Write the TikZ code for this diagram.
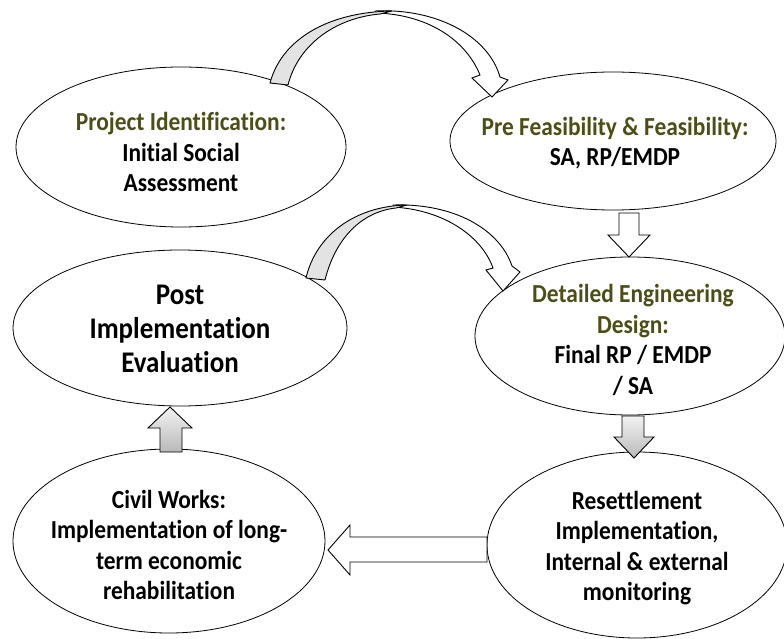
\documentclass[tikz,border=0pt]{standalone}
\usepackage{fontspec}
\setmainfont{Carlito}[FakeStretch=0.9, Ligatures=NoCommon]
\usepackage{xcolor}
\usetikzlibrary{shapes.geometric,positioning,calc}
\definecolor{titlegreen}{HTML}{4D4D17}
\tikzset{
  stage/.style={draw, ellipse, inner sep=0pt, line width=0.8pt},
  stagetext/.style={align=center, inner sep=0pt, font=\bfseries\fontsize{26}{30.5}\selectfont},
  bigtext/.style={align=center, inner sep=0pt, font=\bfseries\fontsize{30}{34}\selectfont},
  graypart/.style={draw, line width=0.9pt, fill=gray!22, line join=round},
  whitepart/.style={draw, line width=0.9pt, fill=white, line join=miter},
}

\begin{document}
\begin{tikzpicture}[x=1pt,y=-1pt]
		\useasboundingbox (0,0) rectangle (784,639);
		% stages
		\node[stage, minimum width=330pt, minimum height=160pt] (ident) at (181,147) {};
		\node[stage, minimum width=326pt, minimum height=138pt] (pre) at (613,141) {};
		\node[stage, minimum width=310pt, minimum height=158pt] (design) at (630,336) {};
		\node[stage, minimum width=334pt, minimum height=156pt] (post) at (180,328) {};
		\node[stage, minimum width=312pt, minimum height=184pt] (civil) at (169,541) {};
		\node[stage, minimum width=300pt, minimum height=186pt] (reset) at (637,545) {};
		\node[stagetext] (identtext) at ($(ident)+(0,5)$) {\textcolor{titlegreen}{Project Identification:}\\Initial Social\\Assessment};
		\node[stagetext] (pretext) at ($(pre)+(2,2)$) {\textcolor{titlegreen}{Pre Feasibility \& Feasibility:}\\SA, RP/EMDP};
		\node[stagetext] (designtext) at ($(design)+(3,4)$) {\textcolor{titlegreen}{Detailed Engineering}\\\textcolor{titlegreen}{Design:}\\Final RP / EMDP\\/ SA};
		\node[bigtext] (posttext) at ($(post)+(0,1)$) {Post\\Implementation\\Evaluation};
		\node[stagetext] (civiltext) at ($(civil)+(0,4)$) {Civil Works:\\Implementation of long-\\term economic\\rehabilitation};
		\node[stagetext] (resettext) at ($(reset)+(0,3)$) {Resettlement\\Implementation,\\Internal \& external\\monitoring};
		% curved arrow ident -> pre
		\draw[whitepart] (375,11) .. controls (435,8) and (488,35) .. (500,77) -- (508,80) -- (492,97) -- (472,78) -- (480,75) .. controls (465,38) and (425,14) .. (375,13) -- cycle;
		\draw[graypart] (270,83) .. controls (282,38) and (330,12) .. (392,11) -- (380,14) .. controls (335,18) and (298,45) .. (288,85) -- cycle;
		% curved arrow post -> design
		\draw[whitepart] (393,205) .. controls (455,203) and (500,230) .. (512,266) -- (520,272) -- (503,291) -- (486,270) -- (493,268) .. controls (482,237) and (445,210) .. (393,207) -- cycle;
		\draw[graypart] (306,278) .. controls (316,235) and (355,206) .. (407,205) -- (396,208) .. controls (360,212) and (335,240) .. (325,280) -- cycle;
		% straight arrows
		\draw[whitepart] (619,213) -- (639,213) -- (639,235) -- (650,235) -- (629,257) -- (608,235) -- (619,235) -- cycle;
		\draw[line width=0.9pt, top color=gray!10, bottom color=gray!55] (622,416) -- (644,416) -- (644,437) -- (654,437) -- (634,458) -- (614,437) -- (622,437) -- cycle;
		\draw[line width=0.9pt, top color=gray!10, bottom color=gray!55] (160,452) -- (160,428) -- (148,428) -- (170,407) -- (192,428) -- (182,428) -- (182,452) -- cycle;
		\draw[whitepart] (487,537) -- (350,537) -- (350,525) -- (328,550) -- (350,575) -- (350,562) -- (487,562) -- cycle;
\end{tikzpicture}
\end{document}
